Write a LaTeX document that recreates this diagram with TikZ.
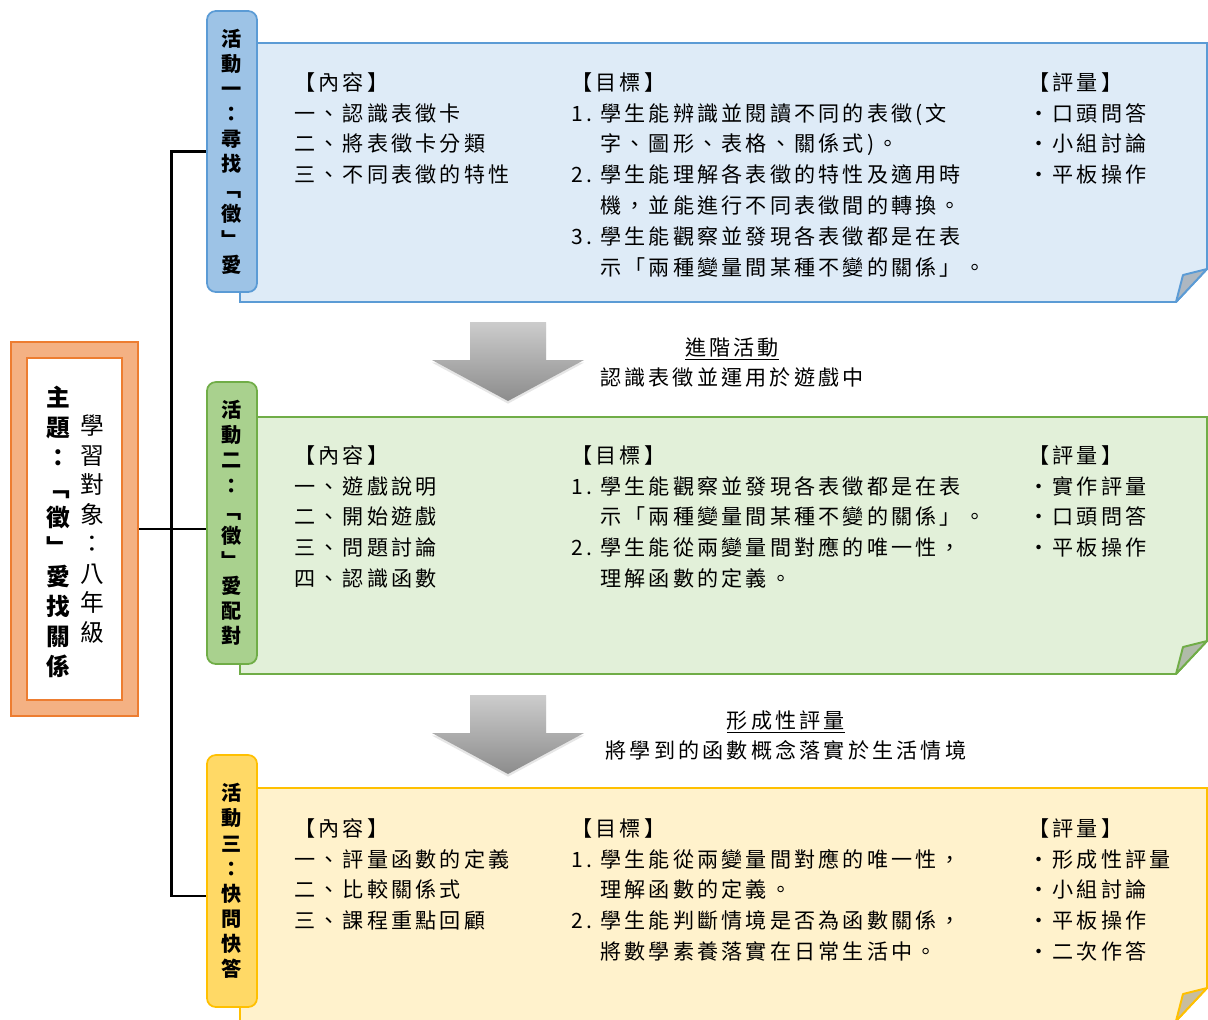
\documentclass[tikz,border=0pt]{standalone}
\usepackage{fontspec}
\usepackage{xcolor}
\usepackage{tikz}
\usetikzlibrary{positioning,shadows,calc}
\setmainfont{Noto Sans CJK TC}
\newfontfamily\spacedcjk{Noto Sans CJK TC}[LetterSpace=15]
\definecolor{blueline}{HTML}{5B9BD5}
\definecolor{bluefill}{HTML}{DEEBF7}
\definecolor{bluetab}{HTML}{9DC3E6}
\definecolor{greenline}{HTML}{70AD47}
\definecolor{greenfill}{HTML}{E2F0D9}
\definecolor{greentab}{HTML}{A9D18E}
\definecolor{yellowline}{HTML}{FFC000}
\definecolor{yellowfill}{HTML}{FFF2CC}
\definecolor{yellowtab}{HTML}{FFD966}
\definecolor{orangeline}{HTML}{ED7D31}
\definecolor{orangefill}{HTML}{F4B183}
\newcommand{\itm}[1]{\makebox[16.5pt][l]{#1}}
\newcommand{\ind}{\hspace*{16.5pt}}
\tikzset{
  tabbox/.style={draw=#1line, fill=#1tab, line width=1pt, rounded corners=5pt, minimum width=1cm, inner sep=0pt, align=center, font=\bfseries\fontsize{11.5pt}{14.3pt}\selectfont},
  col/.style ={anchor=north west, inner sep=0pt, align=left, font=\spacedcjk\fontsize{12pt}{17.58pt}\selectfont},
  note/.style={align=center, inner sep=0pt, font=\spacedcjk\fontsize{12pt}{17.58pt}\selectfont},
  tree/.style={line width=1.6pt, black},
  blockarrow/.style={top color=black!20, bottom color=black!45, drop shadow={opacity=0.2, shadow xshift=0pt, shadow yshift=-1.5pt}},
}
% one note panel with a folded bottom-right corner
\newcommand{\notepanel}[3]{%
  \filldraw[draw=#3line, fill=#3fill, line width=1.1pt] (240,#1) -- (1207,#1) -- (1207,{#2-33}) -- (1176,#2) -- (240,#2) -- cycle;
  \filldraw[draw=#3line, fill=#3fill!78!black, line width=1.1pt, line join=round] (1176,#2) -- (1183,{#2-27}) -- (1207,{#2-33}) -- cycle;
}
\begin{document}
\begin{tikzpicture}[x=0.02cm, y=-0.02cm]
  \useasboundingbox (0,0) rectangle (1208,1019);
  \notepanel{43}{302}{blue}
  \notepanel{417}{674}{green}
  \notepanel{788}{1021}{yellow}

  % topic box
  \node[draw=orangeline, fill=orangefill, line width=1.2pt, minimum width=2.54cm, minimum height=7.48cm] (L) at (74.5,529) {};
  \node[draw=orangeline, fill=white, line width=1pt, minimum width=1.9cm, minimum height=6.84cm] (Lin) at (74.5,529) {};
  \node[align=center, inner sep=0pt, font=\bfseries\fontsize{13.5pt}{17pt}\selectfont] (topic) at (58,532) {主\\題\\：\\﹁\\徵\\﹂\\愛\\找\\關\\係};
  \node[align=center, inner sep=0pt, font=\fontsize{13.5pt}{16.8pt}\selectfont] (grade) at (92,529) {學\\習\\對\\象\\：\\八\\年\\級};

  % activity tabs
  \node[tabbox=blue, minimum height=5.62cm] (t1) at (232,151.5) {活\\動\\一\\：\\尋\\找\\﹁\\徵\\﹂\\愛};
  \node[tabbox=green, minimum height=5.64cm] (t2) at (232,523) {活\\動\\二\\：\\﹁\\徵\\﹂\\愛\\配\\對};
  \node[tabbox=yellow, minimum height=5.04cm] (t3) at (232,881) {活\\動\\三\\：\\快\\問\\快\\答};

  \draw[tree] (L.east) -- (L.east -| t2.west);
  \draw[tree] (t1.west) -- ++(-35,0) |- ([yshift=-0.3cm]t3.west);

  % panel 1
  \node[col] (c1) at (294,72) {【內容】\\一、認識表徵卡\\二、將表徵卡分類\\三、不同表徵的特性};
  \node[col] (g1) at (571,72) {【目標】\\\itm{1.}學生能辨識並閱讀不同的表徵(文\\\ind 字、圖形、表格、關係式)。\\\itm{2.}學生能理解各表徵的特性及適用時\\\ind 機，並能進行不同表徵間的轉換。\\\itm{3.}學生能觀察並發現各表徵都是在表\\\ind 示「兩種變量間某種不變的關係」。};
  \node[col] (e1) at (1028,72) {【評量】\\・口頭問答\\・小組討論\\・平板操作};

  % panel 2
  \node[col] (c2) at (294,445) {【內容】\\一、遊戲說明\\二、開始遊戲\\三、問題討論\\四、認識函數};
  \node[col] (g2) at (571,445) {【目標】\\\itm{1.}學生能觀察並發現各表徵都是在表\\\ind 示「兩種變量間某種不變的關係」。\\\itm{2.}學生能從兩變量間對應的唯一性，\\\ind 理解函數的定義。};
  \node[col] (e2) at (1028,445) {【評量】\\・實作評量\\・口頭問答\\・平板操作};

  % panel 3
  \node[col] (c3) at (294,818) {【內容】\\一、評量函數的定義\\二、比較關係式\\三、課程重點回顧};
  \node[col] (g3) at (571,818) {【目標】\\\itm{1.}學生能從兩變量間對應的唯一性，\\\ind 理解函數的定義。\\\itm{2.}學生能判斷情境是否為函數關係，\\\ind 將數學素養落實在日常生活中。};
  \node[col] (e3) at (1028,818) {【評量】\\・形成性評量\\・小組討論\\・平板操作\\・二次作答};

  % transition arrows
  \foreach \dy in {0,373}
    \path[blockarrow] (470,322+\dy) -- (546,322+\dy) -- (546,360+\dy) -- (584,360+\dy) -- (508,401+\dy) -- (432,360+\dy) -- (470,360+\dy) -- cycle;
  \node[note] (adv) at (732,362.5) {\underline{進階活動}\\認識表徵並運用於遊戲中};
  \node[note] (form) at (786,735.5) {\underline{形成性評量}\\將學到的函數概念落實於生活情境};
\end{tikzpicture}
\end{document}
